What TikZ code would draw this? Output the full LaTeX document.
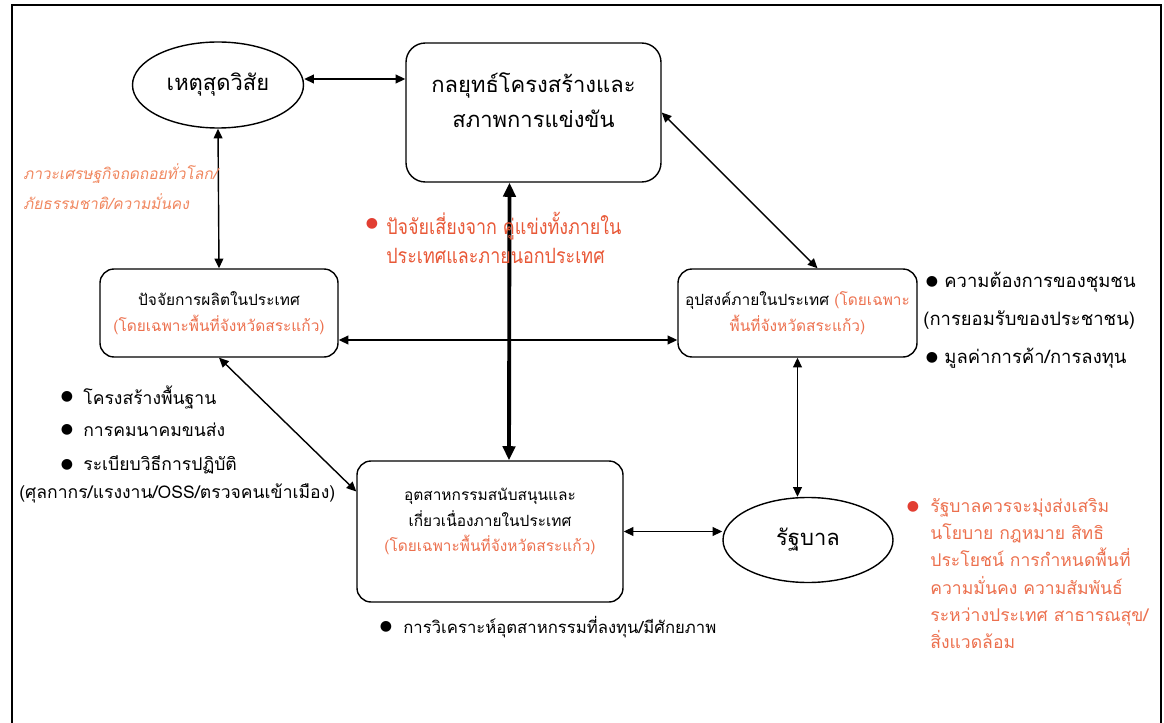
\documentclass[tikz,border=0pt]{standalone}
\usepackage{fontspec}
\setmainfont{Loma}[Script=Thai]
\newfontfamily\thaicond[Script=Thai,FakeStretch=0.85]{Loma}
\newfontfamily\thaislant[Script=Thai,FakeSlant=0.18]{Loma}
\newfontfamily\symfont{DejaVu Sans}
\usetikzlibrary{arrows.meta,shapes.geometric}
\definecolor{lightor}{RGB}{240,135,95}
\definecolor{redor}{RGB}{232,88,55}
\definecolor{boxor}{RGB}{236,112,78}
\definecolor{bulred}{RGB}{226,62,50}
\newdimen\px \px=0.02cm
\newcommand{\bul}{{\symfont\fontsize{8pt}{8pt}\selectfont ●}}
\begin{document}
\begin{tikzpicture}[x=0.02cm,y=-0.02cm,
  every node/.style={inner sep=0pt},
  box/.style={draw, line width=0.8pt, rounded corners=8pt},
  ell/.style={draw, ellipse, line width=0.8pt},
  title/.style={font=\fontsize{12.5pt}{20pt}\selectfont, align=center},
  boxtxt/.style={font=\fontsize{8.8pt}{14.5pt}\selectfont, align=center},
  bultxt/.style={font=\fontsize{10.5pt}{14pt}\selectfont, anchor=west},
  lbultxt/.style={font=\fontsize{10pt}{14pt}\selectfont, anchor=west},
  arr/.style={line width=0.8pt, {Triangle[length=5.5pt,width=5pt]}-{Triangle[length=5.5pt,width=5pt]}},
  bigarr/.style={line width=2.2pt, {Triangle[length=8pt,width=7pt]}-{Triangle[length=8pt,width=7pt]}}]
\useasboundingbox (0,0) rectangle (1164,723);
\draw[line width=1pt] (12,723) -- (12,5) -- (1161,5) -- (1161,723);

% main nodes
\node[ell, title, minimum width=171*\px, minimum height=86*\px] (ev) at (218,85) {เหตุสุดวิสัย};
\node[box, rounded corners=11pt, minimum width=255*\px, minimum height=139*\px,
  label={[name=stratlbl, title, yshift=12*\px]center:กลยุทธ์โครงสร้างและ\\สภาพการแข่งขัน}] (strat) at (533.5,112.5) {};
\node[box, boxtxt, minimum width=238*\px, minimum height=88*\px] (prod) at (219,313)
  {ปัจจัยการผลิตในประเทศ\\{\color{boxor}(โดยเฉพาะพื้นที่จังหวัดสระแก้ว)}};
\node[box, boxtxt, minimum width=239*\px, minimum height=88*\px] (dem) at (797.5,313)
  {อุปสงค์ภายในประเทศ {\color{boxor}(โดยเฉพาะ}\\{\color{boxor}พื้นที่จังหวัดสระแก้ว)}};
\node[box, minimum width=266*\px, minimum height=141*\px,
  label={[name=suplbl, boxtxt, yshift=10*\px]center:อุตสาหกรรมสนับสนุนและ\\เกี่ยวเนื่องภายในประเทศ\\{\color{boxor}(โดยเฉพาะพื้นที่จังหวัดสระแก้ว)}}] (sup) at (490,531.5) {};
\node[ell, title, minimum width=170*\px, minimum height=85*\px] (gov) at (808,540) {รัฐบาล};

% connectors
\draw[arr] ([yshift=6*\px]ev.east) -- ([yshift=6*\px]ev.east -| strat.west);
\draw[arr] (ev.south) -- (prod.north);
\draw[arr] (strat.east) -- ([xshift=20*\px]dem.north);
\draw[bigarr] ([xshift=-24*\px]strat.south) -- ([xshift=19*\px]sup.north);
\draw[arr] ([yshift=-27*\px]prod.east) -- ([yshift=-27*\px]dem.west);
\draw[arr] (prod.south) -- ([yshift=40*\px]sup.west);
\draw[arr] (dem.south) -- (dem.south |- gov.north);
\draw[arr] (sup.east) -- (sup.east -| gov.west);

% annotations
\node[anchor=west, font=\thaislant\fontsize{8.8pt}{17pt}\selectfont, align=left, text=lightor] (crisis) at (23,187)
  {ภาวะเศรษฐกิจถดถอยทั่วโลก/\\ภัยธรรมชาติ/ความมั่นคง};
\node[text=bulred] (b1) at (372,224) {\bul};
\node[anchor=west, font=\thaicond\fontsize{12pt}{16.5pt}\selectfont, align=left, text=redor] (risk) at (386,238)
  {ปัจจัยเสี่ยงจาก คู่แข่งทั้งภายใน\\ประเทศและภายนอกประเทศ};

\node (b2) at (932,282) {\bul};
\node[bultxt] (r1) at (944,282) {ความต้องการของชุมชน};
\node[bultxt] (r2) at (923,320) {(การยอมรับของประชาชน)};
\node (b3) at (932,358) {\bul};
\node[bultxt] (r3) at (944,358) {มูลค่าการค้า/การลงทุน};

\node (b4) at (67,397) {\bul};
\node[lbultxt] (l1) at (83,397) {โครงสร้างพื้นฐาน};
\node (b5) at (67,430) {\bul};
\node[lbultxt] (l2) at (83,430) {การคมนาคมขนส่ง};
\node (b6) at (67,465) {\bul};
\node[lbultxt] (l3) at (83,465) {ระเบียบวิธีการปฏิบัติ};
\node[lbultxt] (l4) at (19,493) {(ศุลกากร/แรงงาน/OSS/ตรวจคนเข้าเมือง)};

\node (b7) at (386,627) {\bul};
\node[font=\fontsize{9.5pt}{14pt}\selectfont, anchor=west] (bot) at (403,627) {การวิเคราะห์อุตสาหกรรมที่ลงทุน/มีศักยภาพ};

\node[text=bulred] (b8) at (913,507) {\bul};
\node[anchor=north west, font=\fontsize{10pt}{15.5pt}\selectfont, align=left, text=boxor] (govtxt) at (930,498)
  {รัฐบาลควรจะมุ่งส่งเสริม\\นโยบาย กฎหมาย สิทธิ\\ประโยชน์ การกำหนดพื้นที่\\ความมั่นคง ความสัมพันธ์\\ระหว่างประเทศ สาธารณสุข/\\สิ่งแวดล้อม};
\end{tikzpicture}
\end{document}
